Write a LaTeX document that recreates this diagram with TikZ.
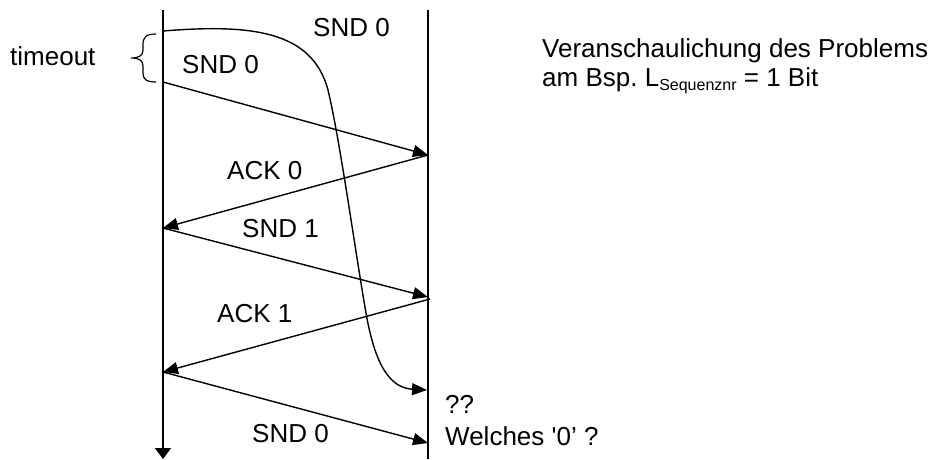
\documentclass[tikz,border=0pt]{standalone}
\usepackage{fontspec}
\setmainfont{Liberation Sans}
\usetikzlibrary{arrows.meta}
\frenchspacing
\begin{document}
\begin{tikzpicture}[x=1pt,y=-1pt,
  lbl/.style={anchor=base west,inner sep=0pt,font=\fontsize{26}{29}\selectfont},
  life/.style={line width=1.5pt},
  msg/.style={line width=1.4pt,-{Triangle[length=15pt,width=12pt]}},
  brc/.style={line width=1.2pt}]
\useasboundingbox (0,0) rectangle (938,459);
% lifelines
\coordinate (Ltop) at (163,10);
\coordinate (Lbot) at (163,459);
\coordinate (Rtop) at (428,10);
\coordinate (Rbot) at (428,459);
\draw[life,-{Triangle[length=11pt,width=16pt]}] (Ltop) -- (Lbot);
\draw[life] (Rtop) -- (Rbot);
% message points
\coordinate (a1) at (163,82);
\coordinate (b1) at (428,155);
\coordinate (a2) at (163,228);
\coordinate (b2) at (428,297);
\coordinate (b2s) at (430,299);
\coordinate (a3) at (163,372);
\coordinate (b3) at (428,443);
\coordinate (c0) at (163,31);
\coordinate (c1) at (427,390);
\draw[msg] (a1) -- (b1);
\draw[msg] (b1) -- (a2);
\draw[msg] (a2) -- (b2);
\draw[msg] (b2s) -- (a3);
\draw[msg] (a3) -- (b3);
% delayed SND 0
\draw[msg] (c0) .. controls (250,24) and (312,30) .. (328,90)
  .. controls (340,140) and (355,250) .. (366,313)
  .. controls (375,365) and (390,388) .. (c1);
% brace
\draw[brc] (156,34) .. controls (146,34) and (143,37) .. (143,45) -- (143,50)
  .. controls (143,55) and (140,58) .. (131,58)
  .. controls (140,58) and (143,61) .. (143,66) -- (143,73)
  .. controls (143,79) and (146,82) .. (156,82);
% labels
\node[lbl] (tmo) at (10,65) {timeout};
\node[lbl] (s0top) at (313,36) {SND 0};
\node[lbl] (s0a) at (182,73) {SND 0};
\node[lbl] (ack0) at (227,179) {ACK 0};
\node[lbl] (snd1) at (242,237) {SND 1};
\node[lbl] (ack1) at (217,322) {ACK 1};
\node[lbl] (s0b) at (252,442) {SND 0};
\node[lbl] (qq) at (445,413) {??};
\node[lbl] (welches) at (445,445) {Welches \textquotesingle 0’ ?};
\node[lbl] (ver1) at (542,57) {Veranschaulichung des Problems};
\node[lbl] (ver2) at (542,86) {am Bsp. L\raisebox{-4pt}{\fontsize{16}{16}\selectfont Sequenznr} = 1 Bit};
\end{tikzpicture}
\end{document}
